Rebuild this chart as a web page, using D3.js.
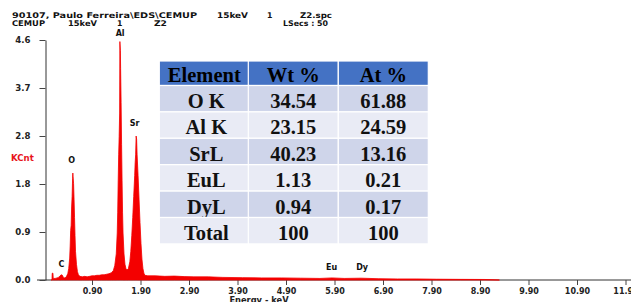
<!DOCTYPE html>
<html>
<head>
<meta charset="utf-8">
<script src="https://cdn.jsdelivr.net/npm/d3@7"></script>
<style>
  html, body { margin: 0; padding: 0; background: #fff; }
  svg { display: block; }
  .lbl { font-family: "DejaVu Sans", sans-serif; font-weight: bold; }
  .tbl text { font-family: "Liberation Serif", "Times New Roman", serif; font-weight: bold; }
</style>
</head>
<body>
<div id="chart"></div>
<script>
// spectrum (keV, KCnt)
const spectrumKeV = [0.06, 0.075, 0.08, 0.095, 0.10, 0.14, 0.18, 0.21, 0.24, 0.27, 0.29, 0.31, 0.34, 0.37, 0.40,
  0.42, 0.44, 0.45, 0.46, 0.47, 0.48, 0.49, 0.50, 0.505, 0.51, 0.52, 0.53, 0.54, 0.55, 0.56, 0.58, 0.60, 0.62, 0.65,
  0.70, 0.75, 0.80, 0.85, 0.90, 0.95, 1.00, 1.05, 1.10, 1.15, 1.20, 1.25, 1.30, 1.34, 1.37, 1.40, 1.42, 1.43, 1.44,
  1.45, 1.46, 1.47, 1.475, 1.485, 1.49, 1.50, 1.51, 1.52, 1.53, 1.54, 1.56, 1.58, 1.60, 1.62, 1.65,
  1.68, 1.70, 1.72, 1.74, 1.76, 1.78, 1.79, 1.80, 1.81, 1.82, 1.83, 1.85, 1.87, 1.89, 1.91, 1.93, 1.95, 1.97, 1.99,
  2.05, 2.2, 2.4, 2.6, 2.8, 3.0, 3.3, 3.6, 4.0, 4.4, 4.8, 5.2, 5.6, 5.85, 6.1, 6.45, 6.8, 7.2, 7.6, 8.0, 8.5, 9.0, 9.3];
const spectrumKCnt = [0.00, 0.00, 0.13, 0.13, 0.03, 0.03, 0.04, 0.05, 0.08, 0.10, 0.09, 0.05, 0.04, 0.06, 0.12,
  0.22, 0.42, 0.65, 0.95, 1.05, 1.40, 1.60, 1.95, 2.05, 1.98, 1.85, 1.55, 1.20, 0.85, 0.55, 0.30, 0.16, 0.10, 0.07,
  0.06, 0.07, 0.06, 0.07, 0.08, 0.08, 0.09, 0.09, 0.10, 0.10, 0.11, 0.12, 0.14, 0.18, 0.28, 0.50, 0.90, 1.30, 1.90,
  2.40, 2.75, 3.20, 4.57, 4.40, 4.05, 3.40, 2.60, 1.90, 1.30, 0.90, 0.50, 0.30, 0.22, 0.19, 0.22,
  0.35, 0.55, 0.85, 1.20, 1.60, 2.00, 2.25, 2.40, 2.76, 2.70, 2.40, 2.00, 1.55, 1.10, 0.70, 0.40, 0.22, 0.13, 0.09,
  0.08, 0.08, 0.07, 0.075, 0.065, 0.06, 0.06, 0.05, 0.045, 0.04, 0.04, 0.035, 0.03, 0.04, 0.03, 0.035, 0.025, 0.02, 0.02, 0.015, 0.012, 0.01, 0.0];

const peakNames = ["C", "O", "Al", "Sr", "Eu", "Dy"];
const peakKeV   = [0.27, 0.48, 1.48, 1.78, 5.84, 6.47];
const peakKCnt  = [0.24, 2.25, 4.68, 2.95, 0.19, 0.19];

const xTicks = [0.9, 1.9, 2.9, 3.9, 4.9, 5.9, 6.9, 7.9, 8.9, 9.9, 10.9, 11.9];
const yTicks = [0, 0.92, 1.84, 2.76, 3.68, 4.6];

const headerLine1 = ["90107, Paulo Ferreira\\EDS\\CEMUP", "15keV", "1", "Z2.spc"];
const headerLine2 = ["CEMUP", "15keV", "1", "Z2", "LSecs : 50"];

const tableColumns = ["Element", "Wt %", "At %"];
const tableElements = ["O K", "Al K", "SrL", "EuL", "DyL", "Total"];
const tableWt = ["34.54", "23.15", "40.23", "1.13", "0.94", "100"];
const tableAt = ["61.88", "24.59", "13.16", "0.21", "0.17", "100"];

const width = 631, height = 302;
const svg = d3.select("#chart").append("svg")
  .attr("width", width).attr("height", height);

const x = d3.scaleLinear().domain([0.9, 10.9]).range([92, 577]);
const y = d3.scaleLinear().domain([0, 4.6]).range([280, 40]);

// header text (null width = natural width)
const h1x = [12, 217, 267, 300], h1w = [185, 31, null, 32];
const h2x = [12, 68, 117, 154, 283], h2w = [33, 29, null, 13, 45];
function headerText(t, xPos, w, yPos) {
  const el = svg.append("text").attr("class", "lbl").attr("x", xPos).attr("y", yPos)
    .attr("font-size", 7.8).attr("fill", "#111").text(t);
  if (w) el.attr("textLength", w).attr("lengthAdjust", "spacingAndGlyphs");
}
headerLine1.forEach((t, i) => headerText(t, h1x[i], h1w[i], 18.3));
headerLine2.forEach((t, i) => headerText(t, h2x[i], h2w[i], 26.3));

// x axis
svg.append("line").attr("x1", 37).attr("x2", width).attr("y1", y(0)).attr("y2", y(0))
  .attr("stroke", "#333").attr("stroke-width", 1);
const gx = svg.append("g").attr("transform", `translate(0,${y(0)})`)
  .call(d3.axisBottom(x).tickValues(xTicks).tickSize(5).tickPadding(3).tickFormat(d3.format(".2f")));
gx.select(".domain").remove();
gx.selectAll("line").attr("stroke", "#444");
gx.selectAll("text").attr("class", "lbl").attr("font-size", 8).attr("fill", "#222");

// y axis
const gy = svg.append("g").attr("transform", "translate(45.5,0)")
  .call(d3.axisLeft(y).tickValues(yTicks).tickSize(6).tickSizeOuter(0).tickPadding(9).tickFormat(d3.format(".1f")));
gy.select(".domain").attr("stroke", "#333");
gy.selectAll("line").attr("stroke", "#444");
gy.selectAll("text").attr("class", "lbl").attr("font-size", 8.6).attr("fill", "#222");

svg.append("text").attr("class", "lbl").attr("x", 11).attr("y", 160.5)
  .attr("font-size", 8.6).attr("fill", "#e8141c").text("KCnt");

svg.append("text").attr("class", "lbl").attr("x", 259).attr("y", 302.5)
  .attr("text-anchor", "middle").attr("font-size", 8.3).attr("fill", "#222").text("Energy - keV");

// spectrum
const pts = spectrumKeV.map((e, i) => [e, spectrumKCnt[i]]);
const area = d3.area().x(d => x(d[0])).y0(y(0)).y1(d => y(d[1]));
svg.append("path").datum(pts).attr("d", area)
  .attr("fill", "#f40000").attr("stroke", "#f40000").attr("stroke-width", 0.8);

// peak labels
peakNames.forEach((n, i) => {
  svg.append("text").attr("class", "lbl").attr("x", x(peakKeV[i])).attr("y", y(peakKCnt[i]))
    .attr("text-anchor", "middle").attr("font-size", 8).attr("fill", "#111").text(n);
});

// table overlay
const tbl = svg.append("g").attr("class", "tbl");
const colX = [159.3, 248.3, 338.3], colW = 90;
const headTop = 61, headH = 24.5, rowH = 26.4;
const rowFill = ["#cfd5ea", "#e9ebf5"];
tableColumns.forEach((c, j) => {
  tbl.append("rect").attr("x", colX[j]).attr("y", headTop).attr("width", colW).attr("height", headH)
    .attr("fill", "#4472c4").attr("stroke", "#fff").attr("stroke-width", 1.2);
  tbl.append("text").attr("x", colX[j] + colW / 2).attr("y", headTop + headH - 3.5)
    .attr("text-anchor", "middle").attr("font-size", 20.5).attr("fill", "#000").text(c);
});
tableElements.forEach((el, i) => {
  const top = headTop + headH + i * rowH;
  [el, tableWt[i], tableAt[i]].forEach((v, j) => {
    tbl.append("rect").attr("x", colX[j]).attr("y", top).attr("width", colW).attr("height", rowH)
      .attr("fill", rowFill[i % 2]).attr("stroke", "#fff").attr("stroke-width", 1.2);
    tbl.append("text").attr("x", colX[j] + colW / 2 + (j === 0 ? 2 : 0)).attr("y", top + rowH - 4)
      .attr("text-anchor", "middle").attr("font-size", 20.5).attr("fill", "#111").text(v);
  });
});
</script>
</body>
</html>
